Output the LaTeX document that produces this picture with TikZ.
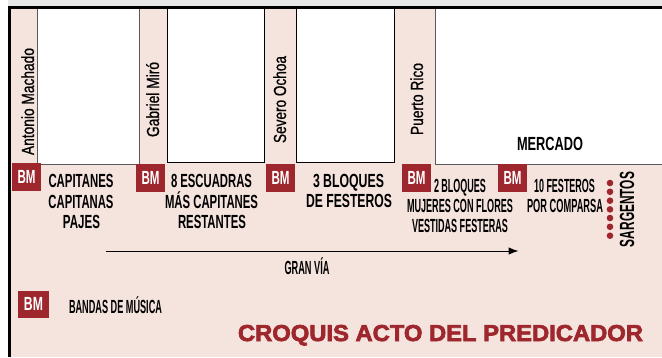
\documentclass[tikz,border=0pt]{standalone}
\usepackage{fontspec}
\usepackage{graphicx}
\usetikzlibrary{arrows.meta}
\setmainfont{Liberation Sans}
\newfontfamily\capsfont[UprightFont={* Bold}]{Liberation Sans}
\newfontfamily\streetfont[FakeBold=1.0]{Liberation Sans}
\newfontfamily\titlefont[UprightFont={* Bold},FakeBold=3]{Liberation Sans}
\newfontfamily\bmfont[UprightFont={* Bold}]{Liberation Sans}
\newcommand{\fitw}[2]{\resizebox{#1pt}{\height}{#2}}
\definecolor{rosa}{HTML}{F5E4DD}
\definecolor{granate}{HTML}{9E272E}
\tikzset{
  capslabel/.style={inner sep=0pt,anchor=base,text=black,font=\capsfont\fontsize{19}{19}\selectfont},
  streetlabel/.style={inner sep=0pt,anchor=base,rotate=90,text=black,font=\streetfont\fontsize{17.5}{17.5}\selectfont},
  manzanag/.style={draw=black!65,line width=1pt,fill=white},
  manzanan/.style={draw=black,line width=1pt,fill=white},
  bmbox/.style={fill=granate,minimum width=29pt,minimum height=28pt,inner sep=0pt,text=white,font=\bmfont\fontsize{19}{19}\selectfont},
  sargdot/.style={circle,fill=granate,minimum size=6.6pt,inner sep=0pt},
}
\begin{document}
\begin{tikzpicture}[x=1pt,y=-1pt]
\useasboundingbox (0,0) rectangle (662,357);
\fill[white] (0,0) rectangle (662,357);
\fill[black!9] (8,0) rectangle (662,7);
\fill[rosa] (9,8) rectangle (662,357);
% blocks
\draw[manzanag] (37.5,8) rectangle (139.5,164);
\draw[manzanan] (167,8) rectangle (264,162.5);
\draw[manzanan] (296.5,8) rectangle (394,162.5);
\draw[manzanag] (435.5,8) rectangle (663,164);
% frame
\fill[black] (8,6) rectangle (662,9);
\fill[black] (8,6) rectangle (11,357);
% streets
\node[streetlabel] (s1) at (34,101.5) {\fitw{107}{Antonio Machado}};
\node[streetlabel] (s2) at (159,99.5) {\fitw{75}{Gabriel Miró}};
\node[streetlabel] (s3) at (286,99.5) {\fitw{87}{Severo Ochoa}};
\node[streetlabel] (s4) at (423,99) {\fitw{72}{Puerto Rico}};
\node[capslabel] (mercado) at (550,150) {\fitw{66}{MERCADO}};
% BM
\node[bmbox] (bm1) at (26.5,177) {\fitw{18}{BM}};
\node[bmbox] (bm2) at (150.5,178) {\fitw{18}{BM}};
\node[bmbox] (bm3) at (280.5,178) {\fitw{18}{BM}};
\node[bmbox] (bm4) at (416.5,178) {\fitw{18}{BM}};
\node[bmbox] (bm5) at (512.5,178) {\fitw{18}{BM}};
\node[bmbox,minimum width=31pt,minimum height=27pt] (bm6) at (33.5,304) {\fitw{19}{BM}};
% groups
\node[capslabel] (a1) at (81,187) {\fitw{65}{CAPITANES}};
\node[capslabel] (a2) at (81,208) {\fitw{65}{CAPITANAS}};
\node[capslabel] (a3) at (81.5,228) {\fitw{37}{PAJES}};
\node[capslabel] (b1) at (211.5,187) {\fitw{81}{8 ESCUADRAS}};
\node[capslabel] (b2) at (211.5,208) {\fitw{93}{MÁS CAPITANES}};
\node[capslabel] (b3) at (212,228) {\fitw{68}{RESTANTES}};
\node[capslabel] (c1) at (348.5,187) {\fitw{71}{3 BLOQUES}};
\node[capslabel] (c2) at (349,207) {\fitw{86}{DE FESTEROS}};
\node[capslabel] (d1) at (460,192) {\fitw{52}{2 BLOQUES}};
\node[capslabel] (d2) at (460,212) {\fitw{106}{MUJERES CON FLORES}};
\node[capslabel] (d3) at (460,232) {\fitw{96}{VESTIDAS FESTERAS}};
\node[capslabel] (e1) at (564.5,192) {\fitw{61}{10 FESTEROS}};
\node[capslabel] (e2) at (565,212) {\fitw{76}{POR COMPARSA}};
\node[capslabel,rotate=90,font=\capsfont\fontsize{20.5}{20.5}\selectfont] (sarg) at (634,209.5) {\fitw{75}{SARGENTOS}};
\foreach \i/\yy in {1/183,2/191.8,3/200.7,4/209.4,5/218,6/226.8,7/235.7}
  \node[sargdot] (dot\i) at (610,\yy) {};
% arrow
\coordinate (ga) at (106,251);
\coordinate (gb) at (518.5,251);
\draw[line width=1pt,-{Latex[length=10pt,width=7.5pt]}] (ga) -- (gb);
\node[capslabel] (gran) at (307,274) {\fitw{45}{GRAN VÍA}};
\node[capslabel] (bandas) at (115.5,313) {\fitw{93}{BANDAS DE MÚSICA}};
\node[inner sep=0pt,anchor=base,text=granate,font=\titlefont\fontsize{23}{23}\selectfont] (titulo) at (440.5,341) {\fitw{405}{CROQUIS ACTO DEL PREDICADOR}};
\end{tikzpicture}
\end{document}
